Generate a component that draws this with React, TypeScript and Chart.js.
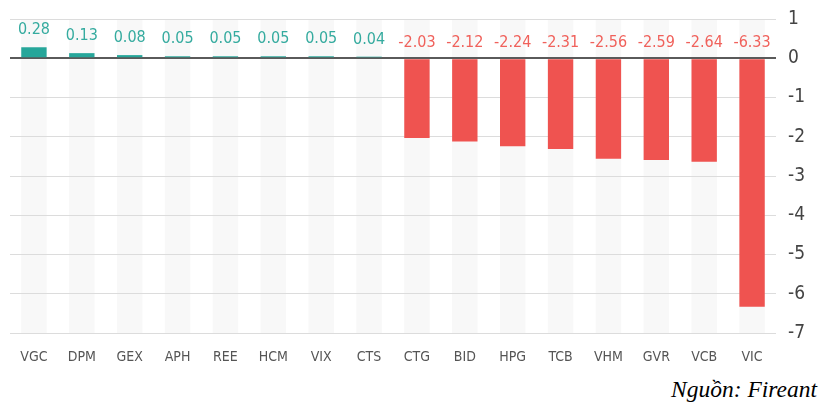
import React, { useEffect, useRef } from "react";
import { Chart, registerables } from "chart.js";

Chart.register(...registerables);

const categories = ["VGC", "DPM", "GEX", "APH", "REE", "HCM", "VIX", "CTS", "CTG", "BID", "HPG", "TCB", "VHM", "GVR", "VCB", "VIC"];
const values = [0.28, 0.13, 0.08, 0.05, 0.05, 0.05, 0.05, 0.04, -2.03, -2.12, -2.24, -2.31, -2.56, -2.59, -2.64, -6.33];
const yMin = -7;
const yMax = 1;
const sourceText = "Nguồn: Fireant";

const UP = "#26a69a";
const DOWN = "#ef5350";
const UP_TEXT = "#35ab9f";
const DOWN_TEXT = "#f0615b";
const FONT = "'DejaVu Sans Condensed', 'Open Sans', sans-serif";

const columnsPlugin = {
  id: "columns",
  beforeDraw(chart: any) {
    const meta = chart.getDatasetMeta(0);
    const area = chart.chartArea;
    const ctx = chart.ctx;
    ctx.save();
    ctx.fillStyle = "#f8f8f8";
    meta.data.forEach((el: any) => {
      const w = el.width;
      ctx.fillRect(el.x - w / 2, area.top, w, area.bottom - area.top);
    });
    ctx.restore();
  },
};

const labelsPlugin = {
  id: "valueLabels",
  afterDatasetsDraw(chart: any) {
    const meta = chart.getDatasetMeta(0);
    const ctx = chart.ctx;
    const zero = chart.scales.y.getPixelForValue(0);
    ctx.save();
    ctx.font = `16px ${FONT}`;
    ctx.textAlign = "center";
    ctx.textBaseline = "alphabetic";
    meta.data.forEach((el: any, i: number) => {
      const v = values[i];
      if (v >= 0) {
        ctx.fillStyle = UP_TEXT;
        ctx.fillText(v.toFixed(2), el.x, el.y - 13);
      } else {
        ctx.fillStyle = DOWN_TEXT;
        ctx.fillText(v.toFixed(2), el.x, zero - 11);
      }
    });
    ctx.restore();
  },
};

export default function App() {
  const ref = useRef<HTMLCanvasElement>(null);
  useEffect(() => {
    if (!ref.current) return;
    const chart = new Chart(ref.current, {
      type: "bar",
      data: {
        labels: categories,
        datasets: [
          {
            data: values,
            backgroundColor: values.map((v) => (v >= 0 ? UP : DOWN)),
            barPercentage: 0.53,
            categoryPercentage: 1,
          },
        ],
      },
      options: {
        animation: false,
        responsive: false,
        maintainAspectRatio: false,
        layout: { padding: { left: 10, top: 19, right: 0, bottom: 0 } },
        plugins: { legend: { display: false }, tooltip: { enabled: false } },
        scales: {
          x: {
            grid: { display: false },
            border: { display: false },
            ticks: { color: "#555", font: { size: 14, family: FONT }, padding: 8, maxRotation: 0, autoSkip: false },
            afterFit: (s: any) => {
              s.height = 37;
              s.paddingLeft = 0;
              s.paddingRight = 0;
            },
          },
          y: {
            position: "right",
            min: yMin,
            max: yMax,
            grid: {
              drawTicks: false,
              color: (c: any) => (c.tick && c.tick.value === 0 ? "#5a5a5a" : "#dcdcdc"),
              lineWidth: (c: any) => (c.tick && c.tick.value === 0 ? 2 : 1),
            },
            border: { display: false },
            ticks: { stepSize: 1, color: "#444", font: { size: 19, family: FONT }, padding: 12 },
            afterFit: (s: any) => {
              s.width = 53;
              s.paddingTop = 0;
              s.paddingBottom = 0;
            },
          },
        },
      },
      plugins: [columnsPlugin, labelsPlugin],
    });
    return () => chart.destroy();
  }, []);
  return (
    <div style={{ position: "absolute", left: 0, top: 0, width: 829, height: 403, background: "#fff" }}>
      <canvas ref={ref} width={829} height={370} style={{ display: "block" }} />
      <div
        style={{
          position: "absolute",
          right: 12,
          top: 378,
          fontFamily: "Liberation Serif, serif",
          fontStyle: "italic",
          fontSize: 23.5,
          color: "#000",
          lineHeight: "23px",
          whiteSpace: "nowrap",
        }}
      >
        {sourceText}
      </div>
    </div>
  );
}
